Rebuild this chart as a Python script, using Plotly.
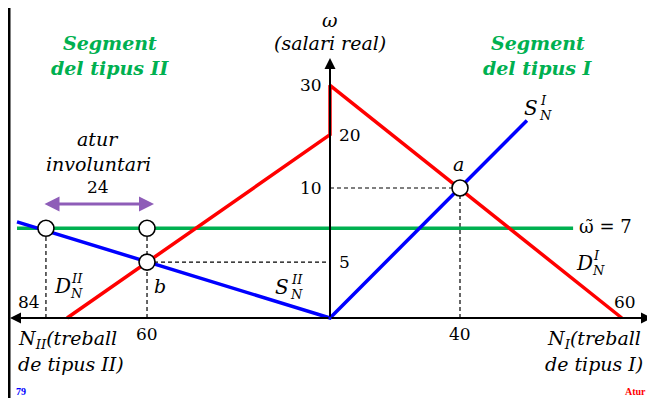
import plotly.graph_objects as go

# ---- data (schematic units: N on x, ω on y; left side = type II labour) ----
demand_x = [-80.9, 0, 0, 89.8]          # D_N^II  -> vertical jump -> D_N^I
demand_y = [0, 14.1, 17.9, 0]
supply_x = [-96.3, 0, 60.6]             # S_N^II  -> origin -> S_N^I
supply_y = [7.4, 0, 15.2]
wage_floor_x = [-96.3, 74.8]            # ω~ = 7
wage_floor_y = [6.9, 6.9]
point_x = [40, -56.3, -87.4, -56.3]     # a, b, and the two points on ω~
point_y = [10, 4.3, 6.9, 6.9]

wage_tick_text = ["30", "20", "10", "5"]
wage_tick_pos = [17.9, 14.1, 10, 4.3]
wage_tick_side = ["left", "right", "left", "right"]

emp_tick_text = ["40", "60", "84", "60"]
emp_tick_pos = [40, -56.3, -87.4, 89.8]
emp_tick_side = ["below", "below", "above-left", "above"]

# ---- helpers (page pixel -> schematic units) ----
def X(px):
    return (px - 330) / 3.25

def Y(py):
    return (318 - py) / 13

FONT = "DejaVu Serif"
SIZE = 19
NUM = 17
GREEN = "#00B050"

fig = go.Figure()

# dashed guides
guides = [
    ([point_x[0], point_x[0]], [0, point_y[0]]),
    ([0, point_x[0]], [point_y[0], point_y[0]]),
    ([point_x[1], 0], [point_y[1], point_y[1]]),
    ([point_x[3], point_x[3]], [0, point_y[3]]),
    ([point_x[2], point_x[2]], [0, point_y[2]]),
]
for gx, gy in guides:
    fig.add_trace(go.Scatter(x=gx, y=gy, mode="lines", hoverinfo="skip",
                             line=dict(color="black", width=1.2, dash="4px,3px")))

# axes with arrows
axis_ends = [(X(10), 0), (X(652), 0), (0, Y(58))]
for ex, ey in axis_ends:
    fig.add_annotation(x=ex, y=ey, ax=0, ay=0, xref="x", yref="y", axref="x", ayref="y",
                       text="", showarrow=True, arrowhead=2, arrowsize=1.1, arrowwidth=2,
                       arrowcolor="black", standoff=0, startstandoff=0)

fig.add_trace(go.Scatter(x=wage_floor_x, y=wage_floor_y, mode="lines", hoverinfo="skip",
                         line=dict(color=GREEN, width=3.5)))
fig.add_trace(go.Scatter(x=demand_x, y=demand_y, mode="lines", hoverinfo="skip",
                         line=dict(color="#FF0000", width=3.5)))
fig.add_trace(go.Scatter(x=supply_x, y=supply_y, mode="lines", hoverinfo="skip",
                         line=dict(color="#0000FF", width=3.5)))
fig.add_trace(go.Scatter(x=point_x, y=point_y, mode="markers", hoverinfo="skip",
                         marker=dict(size=16, color="white", line=dict(color="black", width=1.6))))

# left border line
fig.add_shape(type="line", xref="x", yref="paper", x0=X(9), x1=X(9), y0=0, y1=1,
              line=dict(color="black", width=3))

def txt(s, px, py, size=SIZE, color="black", xanchor="center", italic=True, bold=False, family=FONT):
    t = s
    if italic:
        t = "<i>" + t + "</i>"
    if bold:
        t = "<b>" + t + "</b>"
    fig.add_annotation(x=X(px), y=Y(py), xref="x", yref="y", text=t, showarrow=False,
                       xanchor=xanchor, yanchor="middle",
                       font=dict(family=family, size=size, color=color))

def scripted(main, sup, sub, px, py):
    txt(main, px, py, size=SIZE + 1)
    txt(sup, px + 7, py - 8, size=13, xanchor="left")
    txt(sub, px + 6, py + 7, size=13, xanchor="left")

# titles
txt("ω", 330, 20)
txt("(salari real)", 330, 43)
txt("Segment", 110, 43, size=19, color=GREEN, bold=True)
txt("del tipus II", 110, 68, size=19, color=GREEN, bold=True)
txt("Segment", 538, 43, size=19, color=GREEN, bold=True)
txt("del tipus I", 538, 68, size=19, color=GREEN, bold=True)
txt("atur", 98, 139)
txt("involuntari", 98, 164)
txt("24", 98, 187, italic=False, size=NUM)

# purple double arrow
fig.add_annotation(x=X(154), y=Y(204), ax=X(43), ay=Y(204), xref="x", yref="y",
                   axref="x", ayref="y", text="", showarrow=True, arrowhead=2,
                   arrowside="end+start", arrowsize=1, arrowwidth=3, arrowcolor="#8E5DB8",
                   standoff=0, startstandoff=0)

# tick labels
tick_font = dict(family=FONT, size=NUM, color="black")
for t, p, side in zip(wage_tick_text, wage_tick_pos, wage_tick_side):
    if side == "left":
        fig.add_annotation(x=X(324), y=p, xref="x", yref="y", text=t, showarrow=False,
                           xanchor="right", yanchor="middle", font=tick_font)
    else:
        fig.add_annotation(x=X(337), y=p, xref="x", yref="y", text=t, showarrow=False,
                           xanchor="left", yanchor="middle", font=tick_font)
for t, p, side in zip(emp_tick_text, emp_tick_pos, emp_tick_side):
    if side == "below":
        fig.add_annotation(x=p, y=Y(334), xref="x", yref="y", text=t, showarrow=False,
                           xanchor="center", yanchor="middle", font=tick_font)
    elif side == "above":
        fig.add_annotation(x=p + X(333) - X(330), y=Y(302), xref="x", yref="y", text=t,
                           showarrow=False, xanchor="center", yanchor="middle", font=tick_font)
    else:
        fig.add_annotation(x=p - 1.3, y=Y(302), xref="x", yref="y", text=t, showarrow=False,
                           xanchor="right", yanchor="middle", font=tick_font)

# curve and point labels
txt("a", 458, 164)
txt("b", 160, 286)
scripted("S", "I", "N", 531, 108)
scripted("D", "I", "N", 584, 263)
scripted("S", "II", "N", 282, 287)
scripted("D", "II", "N", 62, 286)
txt("ω\u0303 = 7", 577, 226, italic=False, xanchor="left", size=NUM + 1)

# axis titles
txt("N<sub>II</sub>(treball", 16, 339, xanchor="left")
txt("de tipus II)", 16, 364, xanchor="left")
txt("N<sub>I</sub>(treball", 643, 339, xanchor="right")
txt("de tipus I)", 645, 364, xanchor="right")

# footer
txt("79", 14, 391, size=10, color="#0000FF", italic=False, bold=True, xanchor="left",
    family="Liberation Serif")
txt("Atur", 648, 391, size=10, color="#FF0000", italic=False, bold=True, xanchor="right",
    family="Liberation Serif")

# the page body has an 8px margin, so the figure spans page pixels 8..655 / 8..398
fig.update_layout(
    width=647, height=390, margin=dict(l=0, r=0, t=0, b=0),
    paper_bgcolor="white", plot_bgcolor="white", showlegend=False,
    xaxis=dict(range=[X(8), X(655)], visible=False, fixedrange=True),
    yaxis=dict(range=[Y(398), Y(8)], visible=False, fixedrange=True),
)

fig.write_html("out.html")
